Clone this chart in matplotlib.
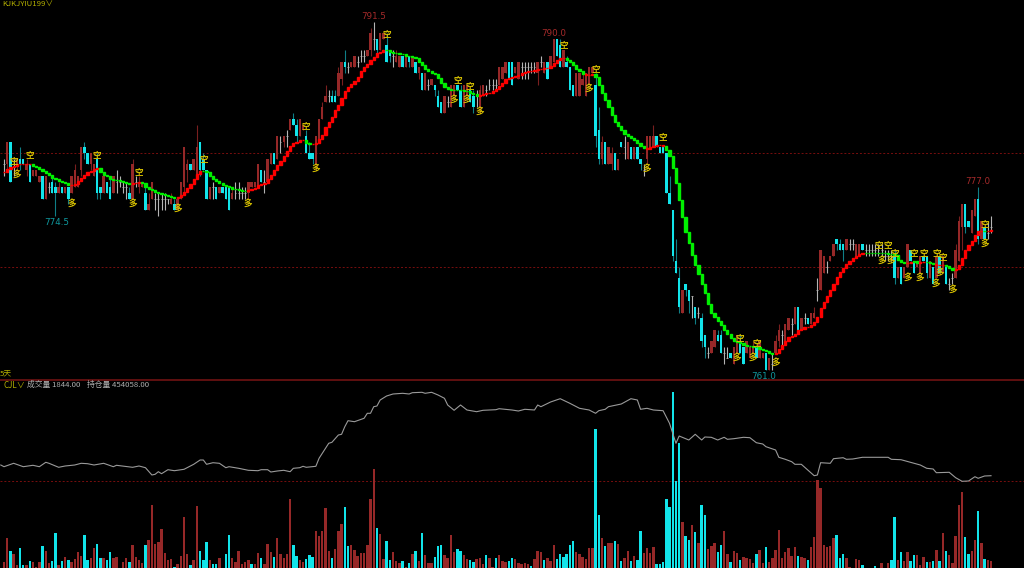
import matplotlib
matplotlib.use("Agg")
import matplotlib.pyplot as plt
import numpy as np

plt.rcParams['font.family'] = ['Noto Sans CJK SC', 'DejaVu Sans']

opens = [
779,779,781,779,779,779.5,779.5,778.5,779,778,
778,777.5,778,776,777,777.5,777,776.5,777,776.5,
777,776.5,777,777,778.5,780.5,780,779,778,779.5,
777,776.5,777.5,777,776.5,777.5,777.5,777,777,776.5,
776,777.5,777,777,776.5,775,776,776,776,776,
776,776,775.5,775.5,775,776,777,778.5,779,778.5,
778,781,779.5,778.5,776,777,777,776.5,777,777,
777,776,776.5,776.5,776.5,776.5,776.5,777,777,777,
778.5,777.5,777.5,779,780,779.5,781,781,781.5,782,
783,782.5,781.5,782,781.5,780,780,779,781,783,
784.5,785,785,785,785,786.5,788,787.5,787.5,787.5,
788,788.5,788.5,788.5,789,790,790,789,790,789.5,
789,788.5,788,787.5,788.5,787.5,788.5,787.5,788,787,
787,785.5,786,786,786,785,784.5,783.5,784.5,784,
785,786,785.5,784,785,785.5,785,785,784,785,
785.5,786,786,786,786,786.5,787,788,788,787,
786.5,787.5,787.5,787.5,787.5,787.5,787,788,787,788,
787.5,788,790,789.5,787.5,788,787.5,786,785,785,
786,785,786,787,786,782,779.5,781,779,779,
780,778.5,781,780.5,779.5,780.5,779.5,780.5,779.5,778.5,
779.5,780.5,780.5,781.5,780.5,780.5,780,776.5,775,770.5,
769,766,768.5,768,767.5,766.5,766,765.5,764,762.5,
762.5,763,764,764,762.5,762,762.5,761.5,762.5,763.5,
763,762.5,762,762.5,763,762,762,762.5,761,761.5,
762.5,763.5,764,763.5,764.5,765,765,766.5,764.5,765.5,
765.5,765,765.5,768,768,769.5,770,770.5,771,772.5,
772,772,771.5,772,772,771,771,772,771.5,771.5,
771.5,771.5,771.5,771.5,771,771,771,771,769,770,
769,770,771.5,770.5,770,769.5,771,771,769,770,
769,771,769.5,770,768.5,769,769,770.5,773.5,775.5,
774,773,774.5,776,772.5,773.5,773,773.5]
closes = [
779,781,777.5,779,779.5,779,779,779,777.5,778.5,
778.5,778,776,778,777,776.5,776.5,777,776.5,777,
776,778,778.5,778,780.5,780,779,780,779,776.5,
776.5,778,776.5,776,778,777.5,777.5,777,777,776,
779,777.5,777.5,777.5,775,775.5,777.5,776,776,776,
776,776,776,775,776,777.5,780.5,779,778.5,779.5,
780.5,778.5,778.5,776,777,777,776,777,776.5,776,
775,776.5,776.5,776.5,776.5,776.5,777.5,777.5,777.5,779,
777.5,777.5,779.5,780,779,781.5,781,781.5,781.5,783,
782.5,781.5,783,782.5,780,779.5,779.5,781.5,783,784,
785,785,784.5,784.5,787,788,787.5,787.5,788,788.5,
788,788.5,788.5,789,790.5,790,789,790.5,790.5,788,
788.5,788.5,788.5,788.5,787.5,788.5,788,788.5,787,787.5,
785.5,787,786,786.5,785.5,784,783.5,785,784.5,786,
786,785.5,784,786,786,784.5,784,785,785.5,786,
785.5,786,786,786,787.5,787.5,788,786.5,786,787.5,
788,787.5,787.5,787.5,787.5,787.5,788,788,788,786.5,
788.5,790,788.5,787.5,789,787.5,785.5,785,787,787,
786.5,787,787.5,787.5,781.5,779.5,781,779,780.5,780,
778.5,779.5,780.5,780.5,781,779.5,780.5,779.5,779,778.5,
781.5,781.5,781.5,780.5,780,780,776.5,775.5,771,769.5,
766.5,768,768,767,767.5,765.5,766,763.5,763,762.5,
763.5,764.5,763.5,762.5,762.5,762,762,763,764,762.5,
761.5,763.5,763,763,762,763.5,762.5,761,762,761.5,
763.5,764.5,764,765,765.5,765,766.5,764.5,765.5,765.5,
765,766,766,768,771.5,771,770,771,772,772,
771.5,771.5,772.5,772,772,772,772,771.5,771.5,771.5,
771.5,771.5,771.5,771.5,771,771,771,769,770,768.5,
770,772,770.5,769.5,770.5,771,770.5,769.5,770.5,768.5,
771,769.5,771,768.5,768.5,769,771.5,774,775.5,773.5,
773.5,775,776,772.5,774,772.5,773,773.5]
highs = [
779.5,781,781,779.5,779.5,780.5,779.5,779.5,779,778.5,
778.5,778,778,778,777.5,778,777.5,777.5,777,777,
777,778,779,778,780.5,781,780,780,779,780,
777,778,777.5,778,778,778.5,778,777.5,777.5,777,
779.5,778,778,777.5,777,776.5,777.5,776.5,776.5,776.5,
776.5,776,776.5,776,776,777.5,780.5,779.5,779,779.5,
782.5,781,780,778.5,777,777.5,777,777,777,777,
777,777,777.5,777.5,777,777,777.5,777.5,777.5,779,
778.5,778.5,779.5,780,780,781.5,781.5,781.5,782,783,
783.5,783,783,782.5,782,781,780,781.5,783,784.5,
786,785.5,785.5,785.5,787.5,788,789,788,788,788.5,
788.5,789,789,789,791,791.5,790,790.5,790.5,790.5,
789,789,789,788.5,788.5,788.5,788.5,788.5,788,787.5,
787,787,786.5,786.5,786,785.5,784.5,785,785,786,
786,786,786,786,786,785.5,785.5,785.5,786,786,
786,786.5,786.5,786.5,787.5,787.5,788,788,788,787.5,
788,788,788,788,788,788,788,788.5,788,788,
788.5,790,790,790,789,788.5,787.5,786,787,787,
787,787,787.5,787.5,787,784,781.5,781,780.5,780.5,
780,779.5,781,781.5,781,780.5,780.5,780.5,779.5,779,
781.5,781.5,782.5,781.5,780.5,780.5,780,778,775,772.5,
770,768,768.5,768,767.5,766.5,766.5,766,764,763,
763.5,764.5,764.5,764.5,763,763,762.5,763,764,764,
763,763.5,763,763.5,763,763.5,762.5,762.5,762,762.5,
764,765,764.5,765,765.5,765.5,766.5,766.5,765.5,766,
765.5,766,766.5,769,771.5,771,770.5,771,772,772.5,
772.5,772,772.5,772.5,772.5,772,772,772,772,772,
772,772,772,772,771.5,771.5,771.5,771.5,770,770,
770,772,771.5,770.5,770.5,771,771,771,770.5,770,
771,771,771,770,769,769.5,772,774.5,775.5,775.5,
774,775,776,777,774,773.5,774,774.5]
lows = [
778,778.5,777.5,778,778.5,778.5,779,778,777.5,778,
778,777.5,776,776,776.5,776.5,774.5,776.5,776.5,776.5,
775.5,776.5,777,777,778,779.5,779,778.5,778,776,
776,776.5,776.5,776,776.5,776.5,777,776.5,776,776,
776,777,776.5,777,775,775,776,775,774.5,775,
775,775.5,775.5,775,775,776,776.5,777.5,778.5,778.5,
778,778,778.5,776,776,776,776,776.5,776.5,776,
775,776,776,776,776,776,776,777,777,777,
777.5,776.5,777.5,779,779,779.5,780,780.5,780.5,782,
782.5,781,781.5,782,780,779.5,779,778.5,781,783,
784.5,784.5,784.5,784.5,785,786,787,787,787.5,787.5,
787.5,788,788,788.5,788.5,789,788.5,789,790,788,
788,787.5,788,787.5,787.5,787.5,787.5,787.5,787,786.5,
785.5,785.5,785.5,786,785,784,783.5,783.5,784,784,
785,785.5,784,784,785,784.5,783.5,784,783.5,785,
785,785.5,785.5,785.5,786,786.5,787,786.5,786,787,
786.5,786.5,786.5,786.5,787,787,786,787.5,787,786.5,
787.5,788,788.5,787.5,787.5,787.5,785.5,785,785,785,
786,785,786,787,780.5,779,779,779,779,778.5,
778.5,778.5,780.5,779.5,779.5,779.5,779.5,779.5,778.5,778,
779,780.5,780.5,780.5,780,780,776.5,775.5,770.5,769.5,
766,766,767.5,766,765.5,765,765.5,763,762,762,
762.5,763,763.5,762.5,761.5,762,762,761.5,762.5,762.5,
761.5,762.5,762,762.5,762,762,762,761,761,761,
762.5,763,763,763.5,764.5,764,765,764.5,764.5,765,
765,765,765.5,767,768,769.5,769.5,770.5,771,771.5,
771.5,770.5,771.5,771.5,771.5,771,771,771.5,771,771,
771,771,771,771,770.5,770.5,770.5,768.5,769,768.5,
769,770,770.5,769.5,770,769.5,770.5,769,769,768.5,
769,769.5,769.5,768.5,768,768.5,769,770.5,771.5,773,
773.5,773,774.5,772,772.5,772.5,772.5,773]

trend = [
778.35,778.6,778.75,778.9,779.0,779.05,779.05,779.05,779.0,778.85,
778.75,778.6,778.4,778.25,778.05,777.85,777.7,777.55,777.45,777.35,
777.15,777.15,777.3,777.55,777.85,778.05,778.3,778.45,778.6,778.65,
778.3,778.1,777.95,777.75,777.65,777.6,777.55,777.5,777.35,777.3,
777.35,777.4,777.45,777.35,777.05,776.85,776.75,776.6,776.5,776.4,
776.3,776.2,776.1,776.05,776.1,776.35,776.6,776.9,777.25,777.7,
778.15,778.45,778.45,778.3,778.0,777.75,777.55,777.35,777.2,777.1,
777.0,776.85,776.8,776.75,776.7,776.7,776.75,776.8,776.95,777.15,
777.3,777.4,777.7,778.1,778.5,778.95,779.3,779.75,780.15,780.6,
780.85,781.0,781.15,781.15,780.85,780.75,780.75,780.85,781.2,781.6,
782.3,782.75,783.2,783.75,784.2,784.8,785.4,785.8,786.05,786.35,
786.7,787.15,787.5,787.8,788.15,788.45,788.75,788.9,789.05,789.05,
788.9,788.8,788.75,788.7,788.65,788.55,788.5,788.4,788.3,788.0,
787.7,787.4,787.2,787.05,786.9,786.55,786.1,785.8,785.65,785.55,
785.55,785.55,785.5,785.45,785.4,785.3,785.2,785.0,785.05,785.15,
785.25,785.3,785.4,785.6,785.9,786.15,786.5,786.6,786.7,786.75,
786.85,787.0,787.1,787.15,787.2,787.3,787.35,787.4,787.45,787.45,
787.65,787.9,788.15,788.3,788.3,788.2,788.0,787.7,787.4,787.15,
786.9,786.85,786.85,786.9,786.7,785.95,785.3,784.65,784.0,783.35,
782.75,782.4,782.0,781.7,781.5,781.3,781.1,780.85,780.6,780.4,
780.35,780.5,780.65,780.7,780.7,780.6,780.25,779.7,778.65,777.35,
775.9,774.35,773.1,772.1,771.05,770.2,769.4,768.55,767.7,766.75,
766.0,765.6,765.25,764.9,764.5,764.1,763.8,763.55,763.45,763.3,
763.15,763.05,763.05,763.0,762.95,762.85,762.75,762.6,762.5,762.35,
762.5,762.85,763.15,763.55,763.85,763.95,764.15,764.45,764.6,764.7,
764.75,764.9,765.2,765.65,766.4,766.95,767.45,768.0,768.55,769.15,
769.6,769.95,770.25,770.55,770.75,770.95,771.1,771.2,771.2,771.2,
771.2,771.2,771.2,771.2,771.2,771.15,771.1,771.05,770.65,770.4,
770.35,770.35,770.45,770.5,770.35,770.4,770.45,770.4,770.35,770.3,
770.2,770.2,770.2,770.1,769.9,769.75,769.85,770.2,770.8,771.5,
771.9,772.3,772.8,773.15,773.15,773.2,773.15,773.25]
trend_side = ('r'*9+'g'*12+'r'*9+'g'*10+'r'*3+'g'*11+'r'*8+'g'*14+'r'*18+'g'*2+'r'*23+'g'*29
              +'r'*27+'g'*6+'r'*3+'g'*16+'r'*6+'g'*34+'r'*28+'g'*13+'r'*2+'g'*2+'r'*2+'g'*3
              +'r'*3+'g'*3+'r'*9+'g'*1+'r'*2)

vols = [
6,30,17,14,3,20,3,3,7,6,
1,6,22,17,5,7,35,3,7,11,
8,6,9,16,12,33,8,10,20,24,
10,10,8,16,10,11,0,6,10,6,
23,11,8,5,23,28,63,24,26,39,
15,8,9,1,4,12,51,14,3,8,
62,17,8,26,8,4,4,10,0,14,
33,10,6,17,4,6,8,4,4,15,
10,4,24,16,11,30,14,10,14,69,
23,12,8,6,9,13,11,37,32,37,
60,17,10,19,37,44,61,22,23,18,
12,15,15,23,69,99,40,34,9,27,
8,16,7,5,7,1,5,14,17,7,
35,13,5,5,11,22,23,13,10,33,
16,19,17,13,9,8,6,9,10,4,
13,10,1,10,13,7,6,7,10,9,
5,4,5,4,2,9,17,16,8,10,
7,23,9,14,11,14,23,27,16,14,
11,9,20,20,139,53,30,22,25,25,
27,24,7,10,17,7,12,8,37,15,
20,15,21,4,4,6,69,61,176,87,
125,46,32,28,43,36,25,63,53,19,
22,25,16,23,37,14,6,17,15,8,
11,10,9,5,14,18,5,21,6,10,
18,38,10,16,20,12,21,12,11,10,
8,21,31,88,80,23,21,22,30,33,
10,14,10,1,0,9,8,3,0,0,
0,2,0,5,0,5,8,51,8,16,
7,16,7,13,13,3,11,6,6,7,
18,7,35,17,13,5,32,63,76,31,
14,17,28,57,25,9,8,7]
vol_cyan = [2,5,6,8,12,15,16,18,20,25,26,29,30,32,33,39,44,53,58,61,62,63,65,66,69,70,77,80,84,
            90,91,94,95,96,102,106,107,116,119,120,124,126,128,130,134,135,136,141,142,145,146,
            150,153,157,158,164,168,172,173,174,175,176,177,184,185,187,190,192,195,197,198,
            203,204,205,206,207,208,209,210,212,213,215,217,218,222,223,226,229,234,237,247,
            250,259,260,261,267,271,276,277,279,282,283,287,289,291,293,299,300,303,305]

oi_idx = [-1,0,3,6,9,11,13,14,17,19,22,24,26,28,31,34,35,40,42,44,46,47,48,49,51,53,56,58,59,61,62,
          63,65,67,69,70,73,76,79,80,82,83,85,87,89,90,92,93,94,97,98,101,102,104,
          105,106,107,109,112,113,114,115,116,117,119,121,124,126,127,130,131,133,135,137,138,140,
          142,144,147,149,153,154,158,160,162,165,166,167,170,173,176,179,182,184,185,187,188,192,
          195,197,198,200,202,205,207,209,210,213,215,217,218,220,222,224,225,227,230,232,234,236,
          237,240,241,243,245,246,248,250,252,253,254,257,258,261,262,264,267,275,276,279,282,285,
          287,289,290,294,296,298,300,302,303,305,307]
oi_val = [103,101.3,104.7,101.3,102.7,101.3,105.7,104.7,100.7,102,103,104.7,104.3,103,104.7,101.3,102.7,
          100.7,102,100.3,93,93.7,96.3,94.3,98.3,97.3,98.7,102,103.7,108,108,103.7,105.3,104.7,100.3,
          101.3,99.7,97.7,97.3,98.3,98.3,96,97,97.7,96.3,99.7,100.3,101.7,100.7,101.7,109.7,124.7,
          125.7,133,133.7,141.3,147.3,146.3,149.7,154.7,154.7,161.3,162,168,172,174,174.7,174,175.3,
          175.7,174.7,175.7,173,169.7,163,157.7,163,158,156.3,157.7,158.3,159.3,158,157,158.7,158,163,
          161.3,166,169.3,164.7,159.7,158,154.7,157.3,158.7,161.3,164,169.3,168,158.7,159.7,158,157.3,
          144.7,124.7,132,128,133.7,128,131,130.7,128,130.7,128.7,129.3,130.7,130.3,125.3,124,121.3,
          118,110.7,108.7,106.3,103.7,103.7,98,92.3,93,105.3,104.7,109.3,110.3,108.7,109,110.7,110.7,
          108.7,108.3,105.7,103,99.7,99,95.3,95.7,90.3,86.7,87,91.3,89.7,92,92.3]

kong_idx = [3,8,29,42,62,94,119,141,145,174,184,205,229,234,272,275,277,283,286,290,292,305]
kong_price = [779.3,779.9,779.9,778.4,779.5,782.45,790.45,786.4,785.9,789.5,787.45,781.4,763.85,
              763.35,771.95,771.95,771.3,771.3,771.3,771.3,770.9,773.85]
duo_idx = [4,21,40,54,76,97,140,144,148,182,200,228,233,240,273,276,281,285,290,291,295,305]
duo_price = [778.15,775.6,775.6,775.15,775.6,778.7,784.75,784.75,783.7,785.7,778.7,762.1,762.1,761.6,
             770.6,770.6,769.1,769.1,768.6,769.55,768.05,772.1]

hi_labels = ["791.5", "790.0", "777.0"]
hi_idx = [115, 171, 303]
hi_price = [791.5, 790.0, 777.0]
lo_labels = ["774.5", "761.0"]
lo_idx = [16, 236]
lo_price = [774.5, 761.0]
price_grid = [780, 770]

RED = "#962828"; RED_W = "#7a1f1f"
CY = "#12e4ea"; CY_W = "#0f7f86"
GRAY = "#b4b4b4"
GRID = "#780e0e"
YEL = "#d6c000"

n = len(closes)
x = np.arange(n)
o, c, h, l = map(np.array, (opens, closes, highs, lows))
xlim = (-1.244, 317.26)

fig = plt.figure(figsize=(10.24, 5.68), dpi=100, facecolor="black")
ax1 = fig.add_axes([0, 1 - 380 / 568, 1, 380 / 568], facecolor="black")
ax2 = fig.add_axes([0, 0, 1, 188 / 568], facecolor="black")
for ax in (ax1, ax2):
    ax.set_xlim(*xlim)
    ax.axis("off")
ax1.set_ylim(760.09, 793.42)
ax2.set_ylim(0, 188)

for g in price_grid:
    ax1.axhline(g, color=GRID, lw=0.7, ls=(0, (2, 2)), zorder=1)

up = c > o
down = c < o
doji = c == o
wick_col = np.where(up, RED_W, np.where(down, CY_W, GRAY))
ax1.vlines(x, l, h, colors=list(wick_col), lw=0.8, zorder=2)
ax1.bar(x[up], (c - o)[up], bottom=o[up], width=0.75, color=RED, lw=0, zorder=3)
ax1.bar(x[down], (o - c)[down], bottom=c[down], width=0.75, color=CY, lw=0, zorder=3)
ax1.hlines(c[doji], x[doji] - 0.3, x[doji] + 0.3, colors=GRAY, lw=0.6, zorder=3)

t = np.array(trend)
prev = np.r_[t[0], t[:-1]]
tcol = ["#ff0000" if s == 'r' else "#00f000" for s in trend_side]
ax1.bar(x, np.abs(t - prev), bottom=np.minimum(t, prev), width=0.68, color=tcol,
        edgecolor=tcol, lw=1.0, zorder=4)

for i, p in zip(kong_idx, kong_price):
    ax1.text(i, p, "空", color=YEL, fontsize=6.2, fontweight="bold", ha="center", va="center", zorder=5)
for i, p in zip(duo_idx, duo_price):
    ax1.text(i, p, "多", color=YEL, fontsize=6.2, fontweight="bold", ha="center", va="center", zorder=5)
for s, i, p in zip(hi_labels, hi_idx, hi_price):
    ax1.annotate(s, (i, p), xytext=(0, 1), textcoords="offset pixels", color="#a52a2a",
                 fontsize=6.3, ha="center", va="bottom", family="DejaVu Sans")
for s, i, p in zip(lo_labels, lo_idx, lo_price):
    ax1.annotate(s, (i, p), xytext=(1, -2), textcoords="offset pixels", color="#0f9aa0",
                 fontsize=6.3, ha="center", va="top", family="DejaVu Sans")

vv = np.array(vols)
vcol = np.array([RED] * n, dtype=object)
vcol[vol_cyan] = CY
ax2.bar(x, vv, width=0.75, color=list(vcol), lw=0, zorder=2)
ax2.axhline(87, color=GRID, lw=0.7, ls=(0, (2, 2)), zorder=1)
ax2.plot(oi_idx, oi_val, color="#9a9a9a", lw=0.8, zorder=3)

fig.add_artist(plt.Line2D([0, 1], [1 - 380 / 568] * 2, color="#7a1414", lw=1.1))


def px_text(px, py, s, color, size=5.6):
    fig.text(px / 1024, 1 - py / 568, s, color=color, fontsize=size, ha="left", va="center")


px_text(2, 5, "KJKJYIU199∨", "#b4b000", 5.6)
px_text(0, 373, "5天", "#b4b000", 5.6)
px_text(3, 385, "CJL∨", "#b4b000", 5.8)
px_text(27, 385, "成交量 1844.00", "#b0b0b0", 5.6)
px_text(87, 385, "持仓量 454058.00", "#b0b0b0", 5.6)

fig.savefig("out.png", dpi=100, facecolor="black")
